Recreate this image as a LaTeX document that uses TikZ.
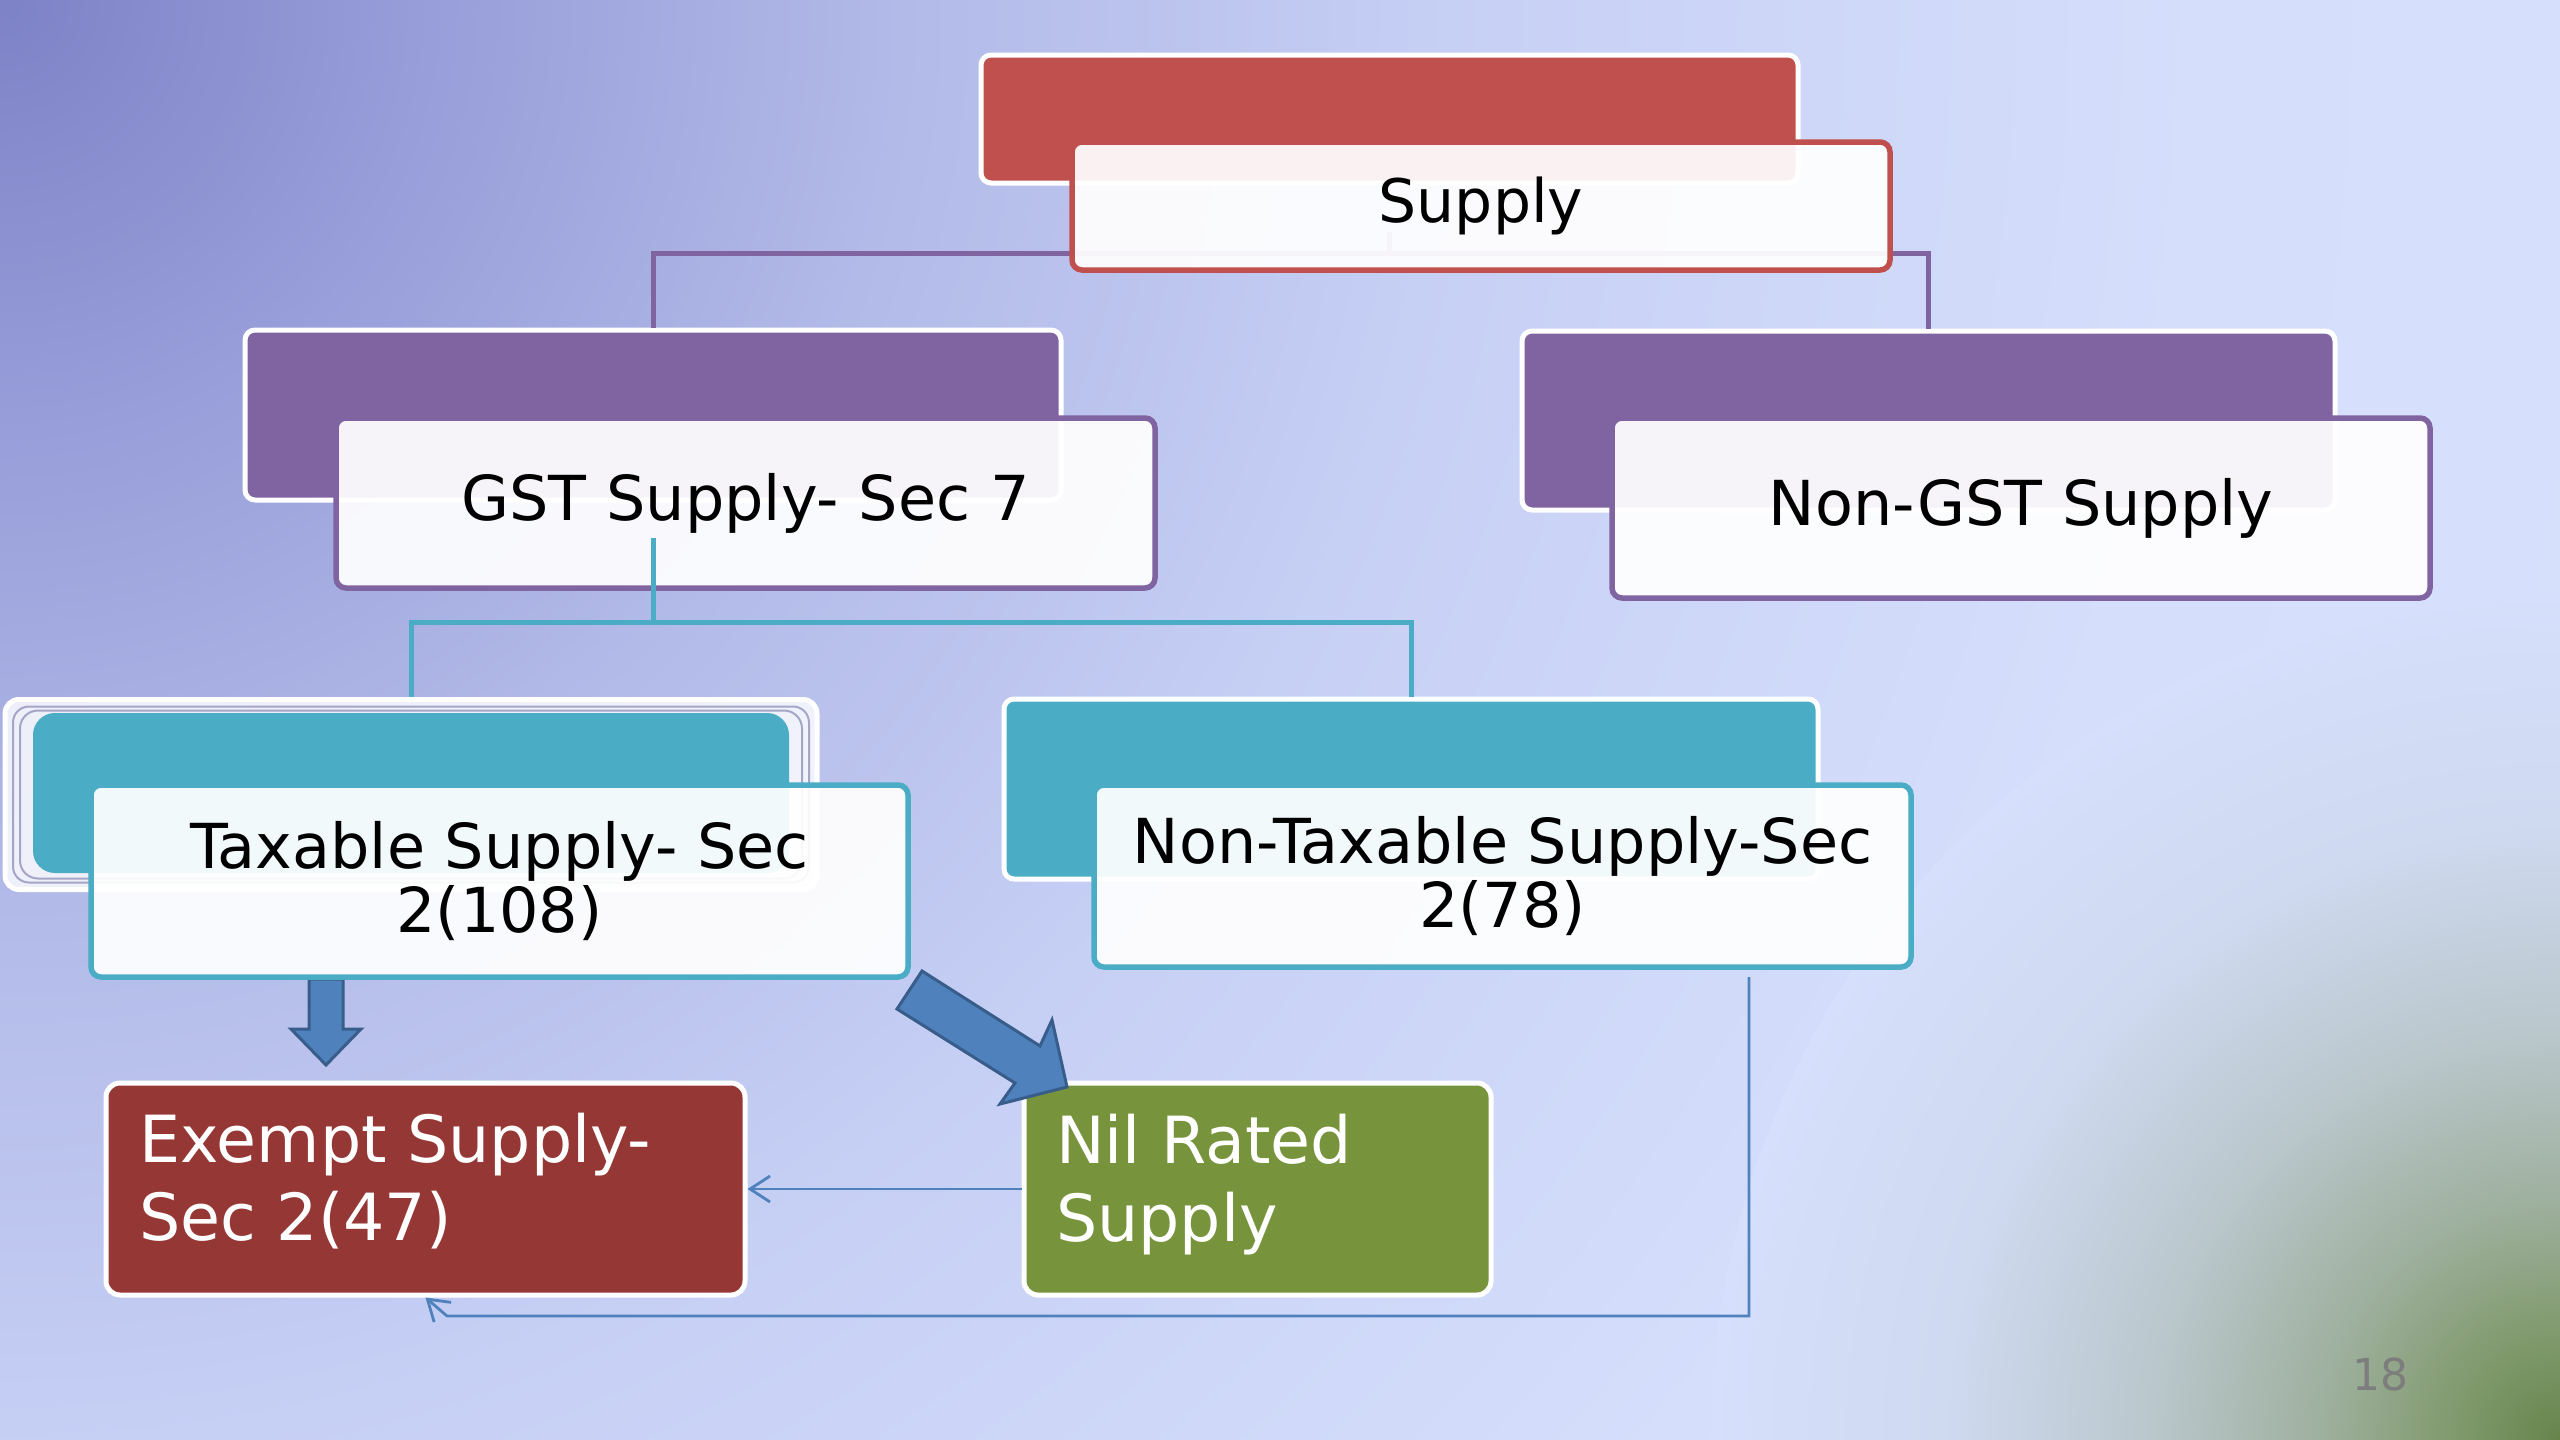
\documentclass[tikz,border=0pt]{standalone}
\usepackage{fontspec}
\setmainfont{DejaVu Sans}
\usetikzlibrary{arrows.meta}

\definecolor{cred}{RGB}{192,80,77}
\definecolor{cpurple}{RGB}{128,100,162}
\definecolor{cteal}{RGB}{75,172,198}
\definecolor{cexempt}{RGB}{149,55,53}
\definecolor{cnil}{RGB}{119,147,60}
\definecolor{cblue}{RGB}{79,129,189}
\definecolor{cbluedark}{RGB}{56,93,138}
\definecolor{cpage}{RGB}{125,125,125}
\definecolor{cframe}{RGB}{165,165,200}

\pgfdeclareradialshading{bgrad}{\pgfpoint{0bp}{0bp}}{rgb(0bp)=(0.49,0.51,0.78); rgb(3.33bp)=(0.588,0.612,0.847); rgb(7.5bp)=(0.698,0.729,0.91); rgb(12.5bp)=(0.784,0.82,0.961); rgb(18.33bp)=(0.835,0.871,0.984); rgb(25bp)=(0.847,0.882,0.988)}
\pgfdeclareradialshading{cornerg}{\pgfpoint{0bp}{0bp}}{rgb(0bp)=(0.40,0.52,0.30); rgb(3bp)=(0.50,0.60,0.42); rgb(7bp)=(0.62,0.69,0.62); rgb(12bp)=(0.73,0.78,0.80); rgb(18bp)=(0.81,0.85,0.94); rgb(25bp)=(0.84,0.875,0.985)}

\tikzset{
  backbox/.style={draw=white, line width=5pt, rounded corners=10pt, inner sep=0pt},
  frontbox/.style={fill=white, fill opacity=0.93, text opacity=1, line width=5.5pt, rounded corners=10pt, inner sep=0pt, align=center, font=\fontsize{62}{64}\selectfont},
  lowbox/.style={draw=white, line width=5pt, rounded corners=14pt, inner sep=0pt},
  lowtext/.style={anchor=base west, inner sep=0pt, align=left, text=white, font=\fontsize{65}{78}\selectfont},
  tree/.style={line width=5pt},
  thinarrow/.style={draw=cblue, line width=2.8pt, -{Straight Barb[length=20pt,width=26pt,line width=2.8pt]}},
  blockarrow/.style={fill=cblue, draw=cbluedark, line width=3pt, line join=miter},
}

\begin{document}
\begin{tikzpicture}[x=1pt,y=-1pt]
\useasboundingbox (0,0) rectangle (2560,1440);
% background
\begin{scope}
  \clip (0,0) rectangle (2560,1440);
  \fill[color={rgb,255:red,216;green,225;blue,252}] (0,0) rectangle (2560,1440);
  \shade[shading=bgrad] (0,0) circle (3000);
  \shade[shading=cornerg] (2560,1440) circle (850);
\end{scope}

% named junctions
\coordinate (j0) at (1389.5,232);
\coordinate (j1) at (1389.5,253);
\coordinate (k0) at (653,538);
\coordinate (j2) at (653,622);
\coordinate (c1) at (1749,977);
\coordinate (c2) at (447,1316);

% back boxes
\node[backbox, fill=cred, minimum width=817, minimum height=128] (supback) at (1389.5,119) {};
\node[backbox, fill=cpurple, minimum width=816, minimum height=170] (gstback) at (653,415) {};
\node[backbox, fill=cpurple, minimum width=813, minimum height=179] (ngstback) at (1928.5,420.5) {};

% tree connectors
\draw[tree, cpurple] (j0) -- (j1);
\draw[tree, cpurple] (j1) -| (gstback.north);
\draw[tree, cpurple] (j1) -| (ngstback.north);

% front boxes (top levels)
\node[frontbox, draw=cred, minimum width=818, minimum height=128, font=\fontsize{60}{64}\selectfont] (supply) at (1481,206) {Supply};
\node[frontbox, draw=cpurple, minimum width=819, minimum height=170] (gst) at (745.5,503) {GST Supply- Sec 7};
\node[frontbox, draw=cpurple, minimum width=818, minimum height=180] (ngst) at (2021,508) {Non-GST Supply};

% third level back boxes
\node[draw=white, fill=white, fill opacity=0.8, line width=5pt, rounded corners=14pt, minimum width=812, minimum height=190, inner sep=0pt] (taxframe) at (411,794.5) {};
\node[draw=cframe, line width=2pt, rounded corners=16pt, minimum width=796, minimum height=176, inner sep=0pt] (taxframe2) at (411,794.5) {};
\node[draw=cframe, line width=2pt, rounded corners=18pt, minimum width=782, minimum height=168, inner sep=0pt] (taxframe3) at (411,794.5) {};
\node[draw=none, fill=cteal, rounded corners=22pt, minimum width=756, minimum height=160, inner sep=0pt] (taxback) at (411,793) {};
\node[backbox, fill=cteal, minimum width=814, minimum height=180] (ntaxback) at (1411,789) {};

\draw[tree, cteal] (k0) -- (j2);
\draw[tree, cteal] (j2) -| (taxframe.north);
\draw[tree, cteal] (j2) -| (ntaxback.north);

% down block arrow (under the taxable box)
\draw[blockarrow] (309,979) -- (343,979) -- (343,1029) -- (361,1029) -- (326,1065) -- (291,1029) -- (309,1029) -- cycle;

\node[frontbox, draw=cteal, minimum width=817, minimum height=192] (tax) at (499.5,881) {Taxable Supply- Sec\\2(108)};
\node[frontbox, draw=cteal, minimum width=817, minimum height=182] (ntax) at (1502.5,876) {Non-Taxable Supply-Sec\\2(78)};

% bottom boxes
\node[lowbox, fill=cexempt, minimum width=639, minimum height=212] (exempt) at (425.5,1189) {};
\node[lowbox, fill=cnil, minimum width=467, minimum height=212] (nil) at (1257.5,1189) {};
\node[lowtext] (exempttxt) at (139,1240) {Exempt Supply-\\Sec 2(47)};
\node[lowtext] (niltxt) at (1056,1241) {Nil Rated\\Supply};

% thin connectors
\draw[thinarrow] (nil.west) -- (exempt.east);
\draw[thinarrow] (c1) |- (c2) -- (exempt.south);

% diagonal block arrow
\draw[blockarrow] (922,971) -- (1040,1046) -- (1052,1020) -- (1067,1087) -- (1000,1104) -- (1015,1083) -- (897,1009) -- cycle;

% page number
\node[font=\fontsize{44}{50}\selectfont, text=cpage, inner sep=0pt] (pg) at (2380,1374) {18};
\end{tikzpicture}
\end{document}
